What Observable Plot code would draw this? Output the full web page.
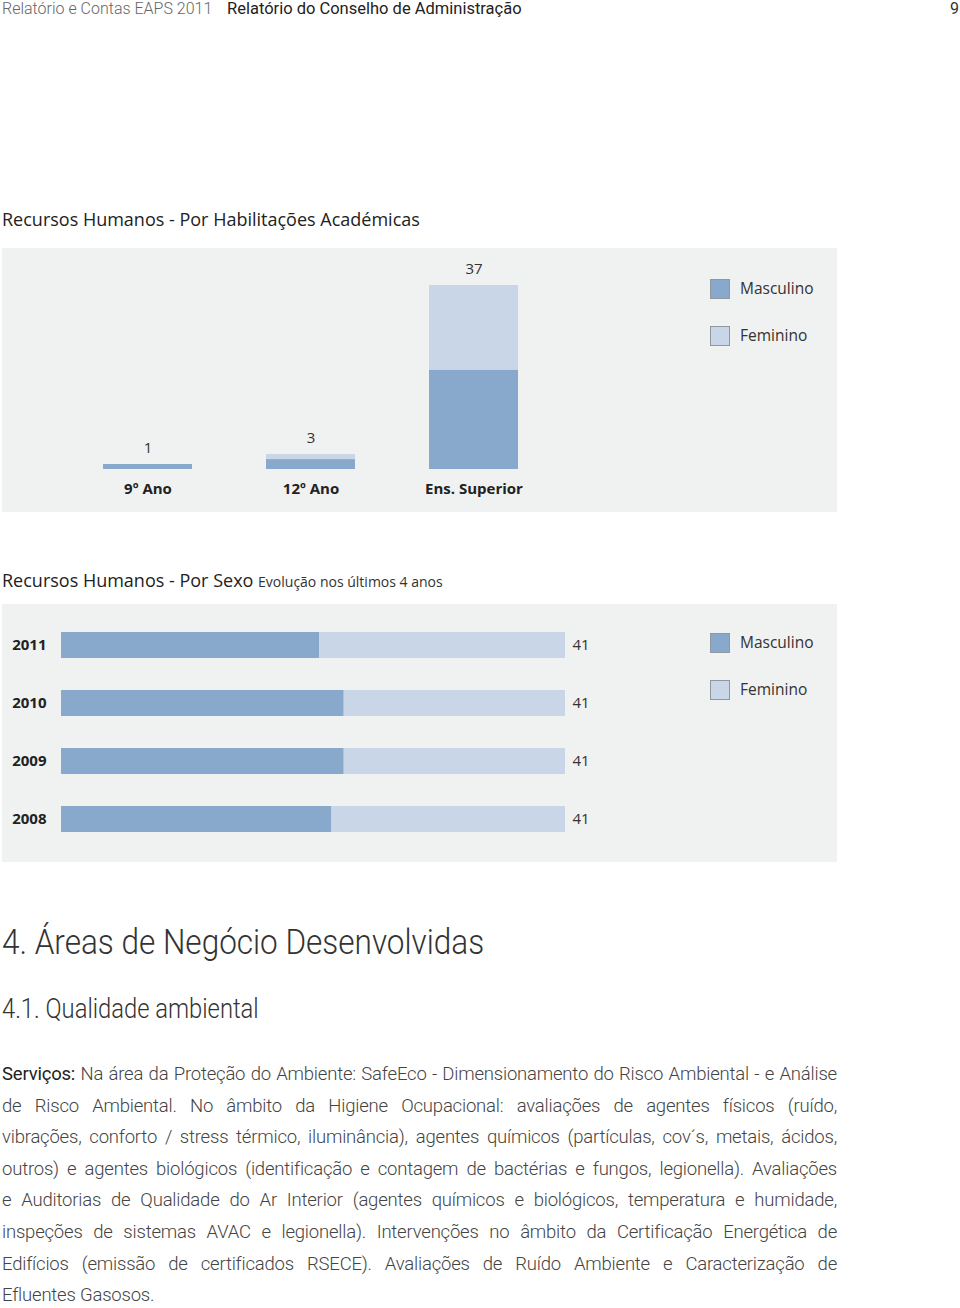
<!DOCTYPE html>
<html>
<head>
<meta charset="utf-8">
<script src="https://cdn.jsdelivr.net/npm/d3@7"></script>
<script src="https://cdn.jsdelivr.net/npm/@observablehq/plot@0.6"></script>
<style>
  html, body { margin: 0; padding: 0; background: #fff; }
  #page { position: relative; width: 960px; height: 1308px; overflow: hidden; font-family: "Open Sans", "Noto Sans", sans-serif; color: #222; }
  .abs { position: absolute; white-space: nowrap; }
  .hdr { top: 0; font-size: 16px; line-height: 18px; }
  .title { font-size: 18px; line-height: 24px; color: #222; }
  .sub { font-size: 14px; color: #333; }
  .lg-sq { position: absolute; width: 18px; height: 18px; border: 1px solid #8f979f; }
  .lg-tx { position: absolute; font-size: 15.5px; line-height: 20px; color: #333; }
  .h1 { font-family: Roboto, "Open Sans", sans-serif; font-weight: 300; font-size: 35px; line-height: 44px; color: #333; transform: scaleX(0.9); transform-origin: left center; }
  .h2 { font-family: Roboto, "Open Sans", sans-serif; font-weight: 300; font-size: 27px; line-height: 34px; color: #333; transform: scaleX(0.88); transform-origin: left center; }
  #para { position: absolute; left: 2px; top: 1059px; width: 835px; font-family: Roboto, "Open Sans", sans-serif; font-weight: 300; font-size: 18.5px; letter-spacing: -0.2px; line-height: 31.6px; color: #444; }
  #para div { text-align: justify; text-align-last: justify; white-space: nowrap; }
  #para div.last { text-align-last: left; }
  #para b { font-weight: 400; color: #222; }
</style>
</head>
<body>
<div id="page">
  <div class="abs hdr" style="left:2px; color:#666; font-weight:300; font-family: Roboto, 'Open Sans', sans-serif;">Relatório e Contas EAPS 2011</div>
  <div class="abs hdr" style="left:227px; color:#222; font-size:16.5px; font-family: Roboto, 'Open Sans', sans-serif;">Relatório do Conselho de Administração</div>
  <div class="abs hdr" style="left:950px; color:#333; font-family: Roboto, 'Open Sans', sans-serif;">9</div>

  <div class="abs title" style="left:2px; top:207px;">Recursos Humanos - Por Habilitações Académicas</div>
  <div id="chart1" class="abs" style="left:2px; top:248px;"></div>
  <div id="legend1"></div>

  <div class="abs title" style="left:2px; top:568px;">Recursos Humanos - Por Sexo <span class="sub">Evolução nos últimos 4 anos</span></div>
  <div id="chart2" class="abs" style="left:2px; top:604px;"></div>
  <div id="legend2"></div>

  <div class="abs h1" style="left:2px; top:921px;">4. Áreas de Negócio Desenvolvidas</div>
  <div class="abs h2" style="left:2px; top:992px;">4.1. Qualidade ambiental</div>

  <div id="para">
    <div><b>Serviços:</b> Na área da Proteção do Ambiente: SafeEco - Dimensionamento do Risco Ambiental - e Análise</div>
    <div>de Risco Ambiental. No âmbito da Higiene Ocupacional: avaliações de agentes físicos (ruído,</div>
    <div>vibrações, conforto / stress térmico, iluminância), agentes químicos (partículas, cov´s, metais, ácidos,</div>
    <div>outros) e agentes biológicos (identificação e contagem de bactérias e fungos, legionella). Avaliações</div>
    <div>e Auditorias de Qualidade do Ar Interior (agentes químicos e biológicos, temperatura e humidade,</div>
    <div>inspeções de sistemas AVAC e legionella). Intervenções no âmbito da Certificação Energética de</div>
    <div>Edifícios (emissão de certificados RSECE). Avaliações de Ruído Ambiente e Caracterização de</div>
    <div class="last">Efluentes Gasosos.</div>
  </div>
</div>
<script>
// ---- Data ----
const seriesNames = ["Masculino", "Feminino"];
const seriesColors = ["#89a9cc", "#c9d6e7"];

const categories = ["9º Ano", "12º Ano", "Ens. Superior"];
const masculinoHab = [1, 2, 20];
const femininoHab = [0, 1, 17];

const years = ["2011", "2010", "2009", "2008"];
const masculinoAnos = [21, 23, 23, 22];
const femininoAnos = [20, 18, 18, 19];

// ---- Chart 1: stacked columns ----
const hab = [];
categories.forEach((c, i) => {
  hab.push({cat: c, sexo: seriesNames[0], value: masculinoHab[i]});
  hab.push({cat: c, sexo: seriesNames[1], value: femininoHab[i]});
});
const habTotals = categories.map((c, i) => ({cat: c, total: masculinoHab[i] + femininoHab[i]}));

const chart1 = Plot.plot({
  width: 835,
  height: 264,
  marginLeft: 100,
  marginRight: 318,
  marginTop: 37,
  marginBottom: 43,
  style: {background: "#f0f1f1", fontFamily: "'Open Sans', 'Noto Sans', sans-serif", fontSize: "15px", color: "#333"},
  x: {domain: categories, paddingInner: 0.457, paddingOuter: 0, axis: null},
  y: {domain: [0, d3.max(habTotals, d => d.total)], axis: null},
  color: {domain: seriesNames, range: seriesColors},
  marks: [
    Plot.barY(hab.filter(d => d.value > 0), {x: "cat", y: "value", fill: "sexo", order: seriesNames}),
    Plot.text(habTotals, {x: "cat", y: "total", text: d => String(d.total), dy: -16, fontSize: 15, fill: "#333"}),
    Plot.axisX({tickSize: 0, tickPadding: 14, fontSize: 15, fontWeight: "bold", fill: "#222", label: null})
  ]
});
document.getElementById("chart1").appendChild(chart1);

// ---- Chart 2: stacked horizontal bars ----
const anos = [];
years.forEach((y, i) => {
  anos.push({ano: y, sexo: seriesNames[0], value: masculinoAnos[i]});
  anos.push({ano: y, sexo: seriesNames[1], value: femininoAnos[i]});
});
const anosTotals = years.map((y, i) => ({ano: y, total: masculinoAnos[i] + femininoAnos[i]}));

const chart2 = Plot.plot({
  width: 835,
  height: 258,
  marginLeft: 59,
  marginRight: 272,
  marginTop: 28,
  marginBottom: 30,
  style: {background: "#f0f1f1", fontFamily: "'Open Sans', 'Noto Sans', sans-serif", fontSize: "15px", color: "#333"},
  y: {domain: years, paddingInner: 0.552, paddingOuter: 0, axis: null},
  x: {domain: [0, d3.max(anosTotals, d => d.total)], axis: null},
  color: {domain: seriesNames, range: seriesColors},
  marks: [
    Plot.barX(anos, {y: "ano", x: "value", fill: "sexo", order: seriesNames}),
    Plot.text(anosTotals, {y: "ano", x: "total", text: d => String(d.total), dx: 7, textAnchor: "start", fontSize: 15, fill: "#333"}),
    Plot.axisY({tickSize: 0, tickPadding: 15, fontSize: 15, fontWeight: "bold", fill: "#222", label: null})
  ]
});
document.getElementById("chart2").appendChild(chart2);

// ---- Legends (HTML, overlaid on panels) ----
function legend(id, top, gap) {
  const el = document.getElementById(id);
  seriesNames.forEach((s, i) => {
    const sq = document.createElement("div");
    sq.className = "lg-sq";
    sq.style.left = "710px";
    sq.style.top = (top + i * gap) + "px";
    sq.style.background = seriesColors[i];
    el.appendChild(sq);
    const tx = document.createElement("div");
    tx.className = "lg-tx";
    tx.style.left = "740px";
    tx.style.top = (top + i * gap - 1) + "px";
    tx.textContent = s;
    el.appendChild(tx);
  });
}
legend("legend1", 279, 47);
legend("legend2", 633, 47);
</script>
</body>
</html>
